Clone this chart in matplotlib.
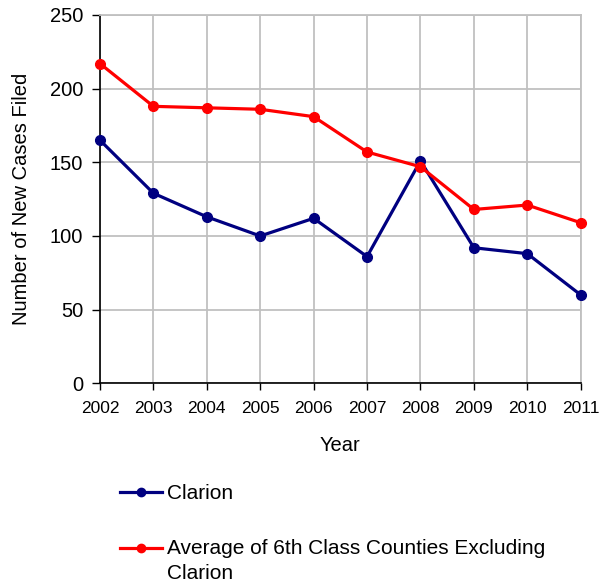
import matplotlib
matplotlib.use("Agg")
import matplotlib.pyplot as plt
from matplotlib.lines import Line2D

years = [2002, 2003, 2004, 2005, 2006, 2007, 2008, 2009, 2010, 2011]
clarion = [165, 129, 113, 100, 112, 86, 151, 92, 88, 60]
average = [217, 188, 187, 186, 181, 157, 147, 118, 121, 109]
series_labels = ["Clarion", "Average of 6th Class Counties Excluding\nClarion"]
series_colors = ['#000080', '#FF0000']
y_ticks = [0, 50, 100, 150, 200, 250]

plt.rcParams['font.family'] = ['Liberation Sans', 'DejaVu Sans']

W, H = 600, 584
fig = plt.figure(figsize=(W/100, H/100), dpi=100)
ax = fig.add_axes([100/W, 1-383.3/H, 480.7/W, 368.3/H])

for vals, col, z in [(clarion, series_colors[0], 3), (average, series_colors[1], 4)]:
    ax.plot(years, vals, color=col, lw=2.3, marker='o', ms=7, zorder=z, clip_on=False)

ax.set_xlim(years[0], years[-1])
ax.set_ylim(0, 250)
ax.set_xticks(years)
ax.set_yticks(y_ticks)
ax.grid(True, color='#C0C0C0', lw=1.3)
ax.set_axisbelow(True)
for s in ['top', 'right']:
    ax.spines[s].set_color('#C0C0C0')
    ax.spines[s].set_linewidth(1.3)
for s in ['left', 'bottom']:
    ax.spines[s].set_color('black')
    ax.spines[s].set_linewidth(1.2)
ax.tick_params(axis='x', direction='out', length=5, width=1, labelsize=12.5, pad=8)
ax.tick_params(axis='y', direction='out', length=6, width=1, labelsize=14.5, pad=6)
ax.set_xlabel("Year", fontsize=14.5, labelpad=14)
ax.set_ylabel("Number of New Cases Filed", fontsize=14.5, labelpad=14)

# legend drawn below the plot
leg_rows = [(492.3, 499.3, series_labels[0], series_colors[0]),
            (548.0, 554.5, series_labels[1], series_colors[1])]
line_step = 24.5
for yc, base, lab, col in leg_rows:
    fig.add_artist(Line2D([120/W, 162/W], [1-yc/H, 1-yc/H], transform=fig.transFigure,
                          color=col, lw=2.3))
    fig.add_artist(Line2D([141/W], [1-yc/H], transform=fig.transFigure,
                          color=col, marker='o', ms=6, lw=0))
    for i, part in enumerate(lab.split("\n")):
        fig.text(167/W, 1-(base + i*line_step)/H, part, fontsize=15,
                 va='baseline', ha='left')

fig.savefig("out.png", dpi=100)
